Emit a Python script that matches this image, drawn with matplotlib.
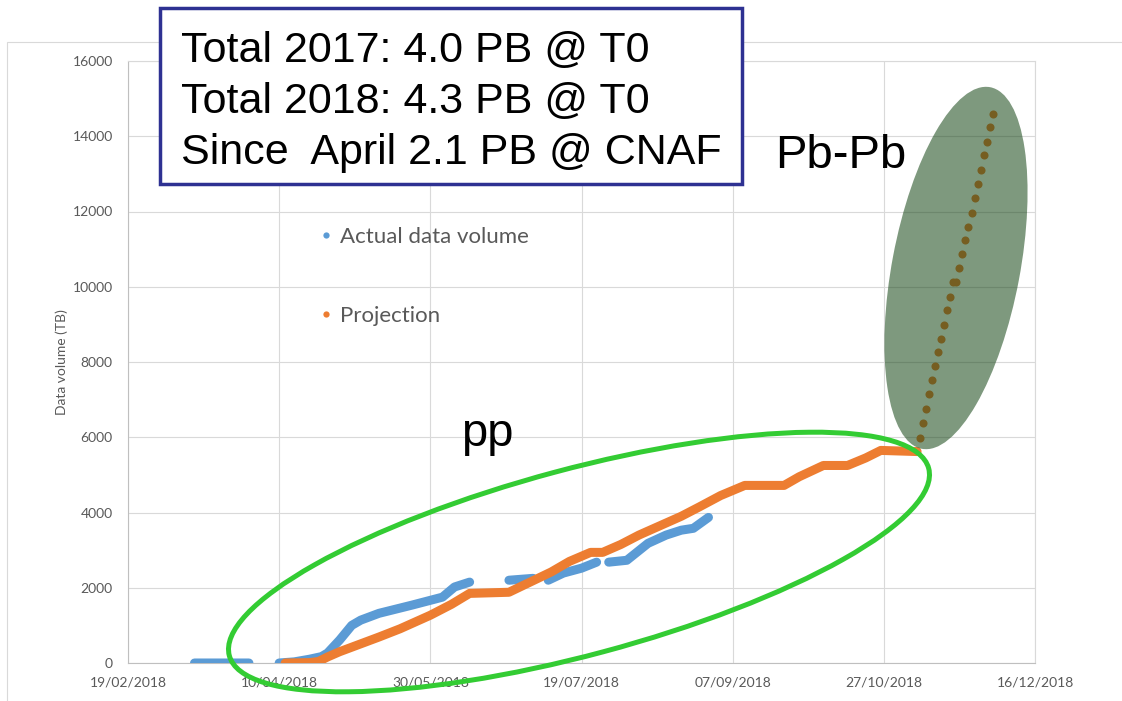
import numpy as np
import pandas as pd
import matplotlib
matplotlib.use("Agg")
import matplotlib.pyplot as plt
import matplotlib.dates as mdates
from matplotlib.patches import Ellipse, Rectangle
from matplotlib.lines import Line2D

# actual data volume (TB), NaN = gap in the record
blue_dates = ['2018-03-13', '2018-03-31', '2018-04-05',
              '2018-04-10', '2018-04-15', '2018-04-20', '2018-04-24', '2018-04-26',
              '2018-04-30', '2018-05-04', '2018-05-07', '2018-05-13', '2018-05-24',
              '2018-06-03', '2018-06-07', '2018-06-12', '2018-06-18',
              '2018-06-25', '2018-07-03', '2018-07-05',
              '2018-07-08', '2018-07-13', '2018-07-19', '2018-07-24', '2018-07-26',
              '2018-07-28', '2018-08-03', '2018-08-10', '2018-08-16', '2018-08-21',
              '2018-08-25', '2018-08-30']
blue_tb = [0, 0, np.nan,
           0, 30, 100, 170, 265,
           610, 1000, 1140, 1320, 1540,
           1750, 2020, 2150, np.nan,
           2200, 2250, np.nan,
           2200, 2390, 2520, 2680, np.nan,
           2680, 2730, 3180, 3400, 3530,
           3580, 3870]

# projection, pp period
proj_dates = ['2018-04-12', '2018-04-20', '2018-04-23', '2018-04-26', '2018-04-30',
              '2018-05-07', '2018-05-13', '2018-05-20', '2018-05-30', '2018-06-06',
              '2018-06-12', '2018-06-25', '2018-07-02', '2018-07-09', '2018-07-15',
              '2018-07-22', '2018-07-26', '2018-08-01', '2018-08-07', '2018-08-14',
              '2018-08-21', '2018-08-27', '2018-09-03', '2018-09-11', '2018-09-24',
              '2018-09-29', '2018-10-07', '2018-10-15', '2018-10-21', '2018-10-26',
              '2018-11-07']
proj_tb = [0, 10, 40, 160, 300,
           510, 690, 910, 1270, 1560,
           1850, 1880, 2150, 2420, 2700,
           2940, 2940, 3150, 3400, 3650,
           3900, 4150, 4450, 4720, 4720,
           4950, 5250, 5250, 5450, 5650,
           5620]

# projection, Pb-Pb period (one point per day, 8 Nov - 2 Dec)
pbpb_dates = pd.date_range('2018-11-08', '2018-12-02', freq='D')
pbpb_tb = [5990, 6390, 6760, 7140, 7510, 7890, 8260, 8610, 8980, 9370,
           9740, 10130, 10130, 10500, 10880, 11250, 11600, 11970, 12350, 12730,
           13110, 13490, 13860, 14250, 14600]

box_lines = ["Total 2017: 4.0 PB @ T0",
             "Total 2018: 4.3 PB @ T0",
             "Since  April 2.1 PB @ CNAF"]

BLUE = '#5B9BD5'
ORANGE = '#ED7D31'
GREY = '#595959'
W, H = 1122, 701

fig = plt.figure(figsize=(W / 100, H / 100), dpi=100)
ax = fig.add_axes([128 / W, (H - 663) / H, (1035 - 128) / W, (663 - 61) / H])

ax.plot(pd.to_datetime(blue_dates), blue_tb, color=BLUE, lw=6.5,
        solid_capstyle='round', solid_joinstyle='round', zorder=3)
ax.plot(pd.to_datetime(proj_dates), proj_tb, color=ORANGE, lw=6.5,
        solid_capstyle='round', solid_joinstyle='round', zorder=4)
ax.plot(pbpb_dates, pbpb_tb, 'o', color=ORANGE, ms=5.8, mec='none', zorder=4)

ax.set_xlim(pd.Timestamp('2018-02-19'), pd.Timestamp('2018-12-16'))
ax.set_ylim(0, 16000)
ax.set_xticks(pd.date_range('2018-02-19', periods=7, freq='50D'))
ax.xaxis.set_major_formatter(mdates.DateFormatter('%d/%m/%Y'))
ax.set_yticks(np.arange(0, 16001, 2000))
ax.grid(color='#D9D9D9', lw=0.8)
ax.set_axisbelow(True)
for s in ['top', 'right']:
    ax.spines[s].set_color('#D9D9D9')
for s in ['left', 'bottom']:
    ax.spines[s].set_color('#BFBFBF')
ax.tick_params(length=0, labelsize=10, labelcolor=GREY)
ax.tick_params(axis='y', pad=11)
ax.tick_params(axis='x', pad=10)
for lab in ax.get_xticklabels() + ax.get_yticklabels():
    lab.set_family('Lato')
ax.set_ylabel('Data volume (TB)', fontsize=10, color=GREY, family='Lato')
ax.yaxis.set_label_coords(-0.066, 0.5)

handles = [Line2D([], [], ls='none', marker='o', ms=4.5, color=BLUE, mec='none'),
           Line2D([], [], ls='none', marker='o', ms=4.5, color=ORANGE, mec='none')]
ax.legend(handles, ['Actual data volume', 'Projection'], loc='upper left',
          bbox_to_anchor=(320 / W, (H - 227) / H), bbox_transform=fig.transFigure,
          frameon=False, prop={'family': 'Lato', 'size': 16}, labelcolor=GREY,
          handlelength=0.5, handletextpad=0.38, labelspacing=2.66, borderpad=0,
          borderaxespad=0)

# slide overlays, placed in pixel units of the picture
inch = fig.dpi_scale_trans
def pos(x, y):
    return x / 100, (H - y) / 100

fig.add_artist(Rectangle(pos(7, 760), 12, (760 - 42) / 100, fill=False,
                         ec='#D9D9D9', lw=0.8, transform=inch))
fig.add_artist(Ellipse(pos(579, 562), 7.24, 1.86, angle=15, fill=False,
                       ec='#33CC33', lw=3.6, transform=inch, zorder=5))
fig.add_artist(Ellipse(pos(956, 268), 1.28, 3.68, angle=-10.7, fc=(0.08, 0.27, 0.08),
                       alpha=0.55, ec='none', transform=inch, zorder=5))
fig.add_artist(Rectangle(pos(160, 184), (742 - 160) / 100, (184 - 8) / 100,
                         fc='white', ec='#2E3192', lw=2.5, transform=inch, zorder=6))
for i, line in enumerate(box_lines):
    fig.text(181 / W, (H - 62 - 51 * i) / H, line, fontsize=31, va='baseline',
             family='Liberation Sans', zorder=7)
fig.text(775 / W, (H - 168) / H, 'Pb-Pb', fontsize=34, va='baseline',
         family='Liberation Sans', zorder=7)
fig.text(461 / W, (H - 446) / H, 'pp', fontsize=34, va='baseline',
         family='Liberation Sans', zorder=7)

fig.savefig('out.png', dpi=100)
